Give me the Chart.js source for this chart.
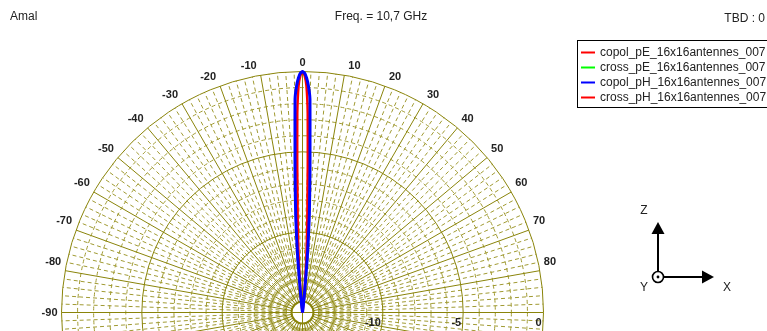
<!DOCTYPE html>
<html>
<head>
<meta charset="utf-8">
<script src="https://cdn.jsdelivr.net/npm/chart.js@4.4.0/dist/chart.umd.min.js"></script>
<style>
  html, body { margin: 0; padding: 0; background: #fff; }
  canvas { display: block; }
</style>
</head>
<body>
<canvas id="polar-chart" width="767" height="331"></canvas>
<script>
// Pattern cut, angle in degrees from broadside (negative = left), gain in dB
const angles  = [-12, -10, -8, -7, -6, -5.5, -5, -4.5, -4, -3.5, -3, -2.5, -2, -1.5, -1, -0.5, 0,
                 0.5, 1, 1.5, 2, 2.5, 3, 3.5, 4, 4.5, 5, 5.5, 6, 7, 8, 10, 12];
const copolPE = [-17, -16, -15.5, -15, -14.5, -14.0, -13.4, -12.6, -11.6, -10.5, -9.3, -7.8, -5.6, -2.6, -0.9, -0.25, 0,
                 -0.25, -0.9, -2.6, -5.6, -7.8, -9.3, -10.5, -11.6, -12.6, -13.4, -14.0, -14.5, -15, -15.5, -16, -17];
const crossPE = [-27, -26, -25, -24, -24, -23, -23, -22, -22, -22, -21, -21, -21, -21, -21, -21, -21,
                 -21, -21, -21, -21, -21, -21, -22, -22, -22, -23, -23, -24, -24, -25, -26, -27];
const copolPH = [-16.5, -15.5, -15, -14.6, -13.9, -13.1, -11.6, -10.3, -8.9, -7.7, -6.1, -4.3, -1.7, -0.9, -0.4, -0.1, 0,
                 -0.1, -0.4, -0.9, -1.7, -4.3, -6.1, -7.7, -8.9, -10.3, -11.6, -13.1, -13.9, -14.6, -15, -15.5, -16.5];
const crossPH = [-28, -27, -26, -25, -25, -24, -24, -23, -23, -23, -22, -22, -22, -22, -22, -22, -22,
                 -22, -22, -22, -22, -22, -22, -23, -23, -23, -24, -24, -25, -25, -26, -27, -28];

const seriesNames  = ['copol_pE_16x16antennes_007', 'cross_pE_16x16antennes_007',
                      'copol_pH_16x16antennes_007', 'cross_pH_16x16antennes_007'];
const seriesColors = ['#ff0000', '#00ff00', '#0000ff', '#ff0000'];
const angleTicks  = [-90, -80, -70, -60, -50, -40, -30, -20, -10, 0, 10, 20, 30, 40, 50, 60, 70, 80];
const radialTicks = [-10, -5, 0];
const dbMin = -15, dbMax = 0;

// layout of the plot on the canvas
const W = 767, H = 331;
const CX = 302.5, CY = 312.5, R_PX = 241;
const unit = R_PX / (dbMax - dbMin);

const majorColor = 'rgb(138,132,10)';
const minorColor = 'rgb(160,154,50)';
const textColor = '#222';

// polar (angle, dB) -> cartesian in radius units
function toXY(values) {
    return values.map((db, i) => {
        const r = Math.max(0, db - dbMin);
        const t = angles[i] * Math.PI / 180;
        return { x: r * Math.sin(t), y: r * Math.cos(t) };
    });
}

const polarGrid = {
    id: 'polarGrid',
    beforeDatasetsDraw(chart) {
        const { ctx, scales: { x, y } } = chart;
        const cx = x.getPixelForValue(0), cy = y.getPixelForValue(0);
        const u = x.getPixelForValue(1) - cx;
        const R = (dbMax - dbMin) * u;
        const r0 = 11;
        ctx.save();
        ctx.lineWidth = 1;

        // dashed minor rings (every dB) and spokes (every 2 deg)
        ctx.strokeStyle = minorColor;
        ctx.setLineDash([4, 3]);
        for (let db = dbMin + 1; db < dbMax; db++) {
            if (db % 5 === 0) continue;
            ctx.beginPath();
            ctx.arc(cx, cy, (db - dbMin) * u, 0, Math.PI * 2);
            ctx.stroke();
        }
        for (let a = 0; a < 360; a += 2) {
            if (a % 10 === 0) continue;
            const t = a * Math.PI / 180;
            const start = a % 4 === 0 ? r0 + 5 : r0 + 20;
            ctx.beginPath();
            ctx.moveTo(cx + start * Math.sin(t), cy - start * Math.cos(t));
            ctx.lineTo(cx + R * Math.sin(t), cy - R * Math.cos(t));
            ctx.stroke();
        }

        // solid major rings and spokes
        ctx.setLineDash([]);
        ctx.strokeStyle = majorColor;
        radialTicks.forEach(db => {
            ctx.beginPath();
            ctx.arc(cx, cy, (db - dbMin) * u, 0, Math.PI * 2);
            ctx.stroke();
        });
        for (let a = 0; a < 360; a += 10) {
            const t = a * Math.PI / 180;
            const start = (a % 90 === 0) ? 0 : r0;
            ctx.beginPath();
            ctx.moveTo(cx + start * Math.sin(t), cy - start * Math.cos(t));
            ctx.lineTo(cx + R * Math.sin(t), cy - R * Math.cos(t));
            ctx.stroke();
        }
        ctx.lineWidth = 2;
        ctx.beginPath();
        ctx.arc(cx, cy, r0, 0, Math.PI * 2);
        ctx.stroke();

        // angle labels
        ctx.fillStyle = textColor;
        ctx.font = 'bold 11px "Liberation Sans", Arial, sans-serif';
        ctx.textBaseline = 'middle';
        angleTicks.forEach(a => {
            const t = a * Math.PI / 180;
            const px = cx + R * Math.sin(t), py = cy - R * Math.cos(t);
            let tx = px;
            if (a < 0) { ctx.textAlign = 'right'; tx = px - 4; }
            else if (a > 0) { ctx.textAlign = 'left'; tx = px + 4; }
            else ctx.textAlign = 'center';
            const ty = Math.abs(a) === 90 ? py : py - 9;
            ctx.fillText(String(a), tx, ty);
        });

        // radial (dB) labels along the right horizontal axis
        ctx.textAlign = 'right';
        radialTicks.forEach(db => {
            ctx.fillText(String(db), cx + (db - dbMin) * u - 2, cy + 10);
        });
        ctx.restore();
    }
};

const decorations = {
    id: 'decorations',
    afterDraw(chart) {
        const ctx = chart.ctx;
        ctx.save();
        ctx.fillStyle = textColor;
        ctx.font = '12px "Liberation Sans", Arial, sans-serif';
        ctx.textBaseline = 'middle';
        ctx.textAlign = 'left';
        ctx.fillText('Amal', 10, 17);
        ctx.textAlign = 'center';
        ctx.fillText('Freq. = 10,7 GHz', 381, 17);
        ctx.textAlign = 'right';
        ctx.fillText('TBD : 0', 765, 19);

        // legend box
        ctx.strokeStyle = '#000';
        ctx.lineWidth = 1;
        ctx.strokeRect(577.5, 40.5, 200, 67);
        ctx.textAlign = 'left';
        chart.data.datasets.forEach((ds, i) => {
            const ly = 52.5 + i * 15;
            ctx.strokeStyle = ds.borderColor;
            ctx.lineWidth = 2;
            ctx.beginPath();
            ctx.moveTo(581, ly);
            ctx.lineTo(595, ly);
            ctx.stroke();
            ctx.fillStyle = textColor;
            ctx.fillText(ds.label, 600, ly);
        });

        // axis triad
        ctx.strokeStyle = '#000';
        ctx.fillStyle = '#000';
        ctx.lineWidth = 2;
        ctx.beginPath();
        ctx.moveTo(658, 271); ctx.lineTo(658, 233);
        ctx.moveTo(664, 277); ctx.lineTo(703, 277);
        ctx.stroke();
        ctx.beginPath();
        ctx.moveTo(651.5, 234); ctx.lineTo(664.5, 234); ctx.lineTo(658, 222); ctx.closePath();
        ctx.fill();
        ctx.beginPath();
        ctx.moveTo(702, 270.5); ctx.lineTo(702, 283.5); ctx.lineTo(714, 277); ctx.closePath();
        ctx.fill();
        ctx.fillStyle = '#fff';
        ctx.lineWidth = 1.6;
        ctx.beginPath();
        ctx.arc(658, 277, 5.5, 0, Math.PI * 2);
        ctx.fill();
        ctx.stroke();
        ctx.fillStyle = '#000';
        ctx.beginPath();
        ctx.arc(658, 277, 1.4, 0, Math.PI * 2);
        ctx.fill();
        ctx.fillStyle = textColor;
        ctx.font = '12px "Liberation Sans", Arial, sans-serif';
        ctx.textAlign = 'center';
        ctx.fillText('Z', 644, 211);
        ctx.fillText('Y', 644, 288);
        ctx.fillText('X', 727, 288);
        ctx.restore();
    }
};

const seriesValues = [copolPE, crossPE, copolPH, crossPH];
const widths = [2.5, 2, 3, 2];
const drawOrder = [1, 2, 0, 3]; // blue drawn on top of red

new Chart(document.getElementById('polar-chart'), {
    type: 'scatter',
    data: {
        datasets: seriesNames.map((name, i) => ({
            label: name,
            data: toXY(seriesValues[i]),
            showLine: true,
            borderColor: seriesColors[i],
            backgroundColor: seriesColors[i],
            borderWidth: widths[i],
            pointRadius: 0,
            tension: 0.1,
            order: drawOrder[i]
        }))
    },
    options: {
        responsive: false,
        animation: false,
        devicePixelRatio: 1,
        layout: { padding: 0 },
        plugins: { legend: { display: false }, tooltip: { enabled: false } },
        scales: {
            x: { type: 'linear', display: false, min: -CX / unit, max: (W - CX) / unit },
            y: { type: 'linear', display: false, min: -(H - CY) / unit, max: CY / unit }
        }
    },
    plugins: [polarGrid, decorations]
});
</script>
</body>
</html>
